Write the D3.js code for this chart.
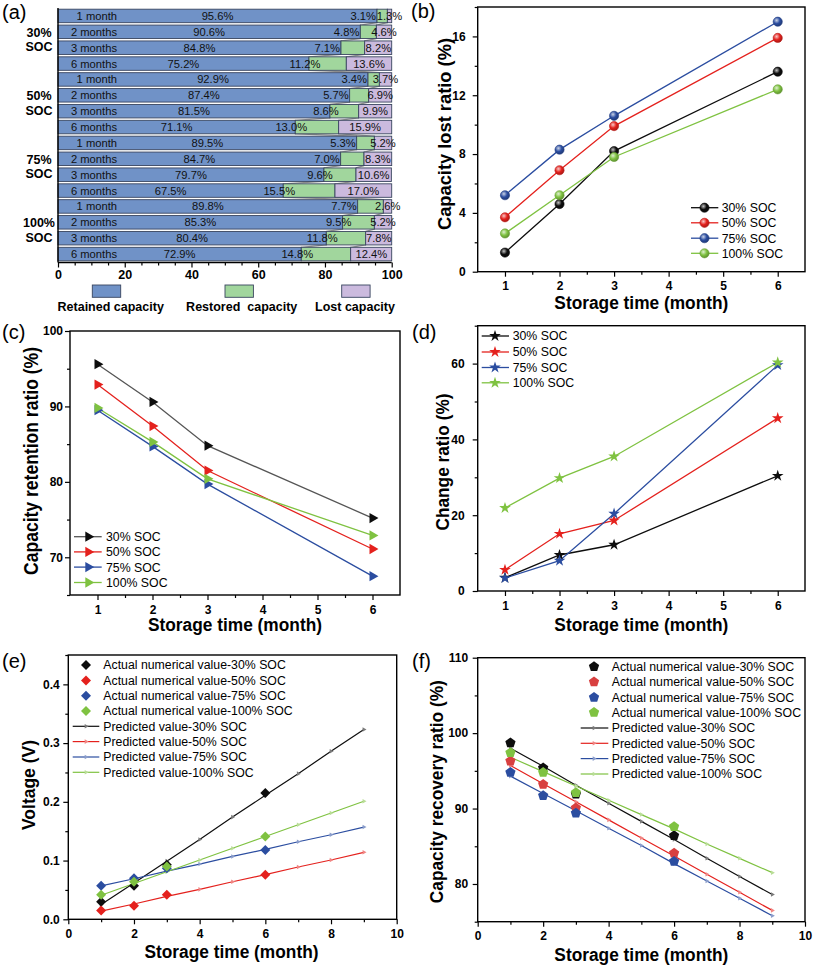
<!DOCTYPE html>
<html><head><meta charset="utf-8">
<script src="https://cdn.jsdelivr.net/npm/d3@7"></script>
<style>
body{margin:0;background:#fff}
svg{display:block}
text{font-family:"Liberation Sans",Arial,Helvetica,sans-serif}
</style>
</head><body>
<svg id="chart" width="813" height="967"></svg>
<script>
// ---------------- data ----------------
const socLabels = ["30% SOC", "50% SOC", "75% SOC", "100% SOC"];
const groupPct = ["30%", "50%", "75%", "100%"];
const months = [1, 2, 3, 6];
const monthLabels = ["1 month", "2 months", "3 months", "6 months"];
const retained = [[95.6, 90.6, 84.8, 75.2], [92.9, 87.4, 81.5, 71.1], [89.5, 84.7, 79.7, 67.5], [89.8, 85.3, 80.4, 72.9]];
const restored = [[3.1, 4.8, 7.1, 11.2], [3.4, 5.7, 8.6, 13.0], [5.3, 7.0, 9.6, 15.5], [7.7, 9.5, 11.8, 14.8]];
const lost = [[1.3, 4.6, 8.2, 13.6], [3.7, 6.9, 9.9, 15.9], [5.2, 8.3, 10.6, 17.0], [2.6, 5.2, 7.8, 12.4]];
const changeRatio = [[3.5, 9.5, 12.2, 30.4], [5.6, 15.1, 18.6, 45.6], [3.4, 8.0, 20.4, 59.6], [21.9, 29.8, 35.5, 60.3]];
const predMonths = [1, 2, 3, 4, 5, 6, 7, 8, 9];
const voltageActual = [[0.030, 0.057, 0.093, 0.215], [0.015, 0.023, 0.042, 0.076], [0.057, 0.070, 0.087, 0.118], [0.042, 0.064, 0.090, 0.141]];
const voltagePred = [
  [0.025, 0.062, 0.099, 0.136, 0.174, 0.211, 0.248, 0.286, 0.323],
  [0.014, 0.026, 0.039, 0.051, 0.064, 0.076, 0.089, 0.101, 0.114],
  [0.057, 0.069, 0.082, 0.094, 0.107, 0.119, 0.132, 0.144, 0.157],
  [0.041, 0.061, 0.081, 0.101, 0.121, 0.141, 0.161, 0.181, 0.201]];
const recoveryActual = [[98.7, 95.4, 91.9, 86.4], [96.3, 93.2, 90.1, 84.1], [94.8, 91.7, 89.4, 83.0], [97.4, 94.8, 92.1, 87.6]];
const recoveryPred = [
  [98.0, 95.6, 93.1, 90.7, 88.3, 85.9, 83.4, 81.0, 78.6],
  [95.7, 93.3, 90.9, 88.5, 86.1, 83.7, 81.3, 78.9, 76.5],
  [94.3, 92.0, 89.7, 87.4, 85.1, 82.7, 80.4, 78.1, 75.8],
  [96.8, 94.9, 93.0, 91.1, 89.2, 87.3, 85.3, 83.4, 81.5]];
const barLegend = ["Retained capacity", "Restored  capacity", "Lost capacity"];
const actualLegend = ["Actual numerical value-30% SOC", "Actual numerical value-50% SOC", "Actual numerical value-75% SOC", "Actual numerical value-100% SOC"];
const predLegend = ["Predicted value-30% SOC", "Predicted value-50% SOC", "Predicted value-75% SOC", "Predicted value-100% SOC"];
const ticksA = [0, 20, 40, 60, 80, 100];
const ticksMonth = [1, 2, 3, 4, 5, 6];
const ticksB = [0, 4, 8, 12, 16];
const ticksC = [70, 80, 90, 100];
const ticksD = [0, 20, 40, 60];
const ticksE = [0, 0.1, 0.2, 0.3, 0.4];
const ticksF = [80, 90, 100, 110];
const ticksX10 = [0, 2, 4, 6, 8, 10];

// ---------------- styles ----------------
const colors = ["#0d0d0d", "#e4211d", "#2b4da0", "#7fc241"];
const barColors = ["#7092c7", "#a1d69d", "#cbbade"];
const barStroke = "#39455f";

const svg = d3.select("#chart");
const defs = svg.append("defs");
colors.forEach((c, i) => {
  const g = defs.append("radialGradient").attr("id", "ball" + i).attr("cx", "38%").attr("cy", "35%").attr("r", "65%");
  g.append("stop").attr("offset", "0%").attr("stop-color", d3.interpolateRgb(c, "#fff")(0.75));
  g.append("stop").attr("offset", "55%").attr("stop-color", c);
  g.append("stop").attr("offset", "100%").attr("stop-color", d3.color(c).darker(0.8));
});

// ---------------- helpers ----------------
function styleAxis(g, fs) {
  g.select(".domain").remove();
  g.selectAll(".tick line").attr("stroke", "#000").attr("stroke-width", 1.2);
  g.selectAll(".tick text").attr("font-size", fs || 12).attr("font-weight", "bold").attr("fill", "#000")
    .attr("font-family", "'Liberation Sans',Arial,sans-serif");
}
function frame(x, y, o) {
  const g = svg.append("g");
  const [x0, x1] = x.range(), [y0, y1] = y.range();
  const bx = g.append("g").attr("transform", `translate(0,${y0})`)
    .call(d3.axisBottom(x).tickValues(o.xMajor).tickFormat(o.xFmt || d3.format("d")).tickSize(5).tickSizeOuter(0).tickPadding(5));
  styleAxis(bx);
  const bxm = g.append("g").attr("transform", `translate(0,${y0})`)
    .call(d3.axisBottom(x).tickValues(o.xMinor).tickFormat("").tickSize(3).tickSizeOuter(0));
  styleAxis(bxm);
  const ly = g.append("g").attr("transform", `translate(${x0},0)`)
    .call(d3.axisLeft(y).tickValues(o.yMajor).tickFormat(o.yFmt || d3.format("d")).tickSize(5).tickSizeOuter(0).tickPadding(o.yPad));
  styleAxis(ly);
  const lym = g.append("g").attr("transform", `translate(${x0},0)`)
    .call(d3.axisLeft(y).tickValues(o.yMinor).tickFormat("").tickSize(3).tickSizeOuter(0));
  styleAxis(lym);
  g.append("rect").attr("x", x0).attr("y", y1).attr("width", x1 - x0).attr("height", y0 - y1)
    .attr("fill", "none").attr("stroke", "#000").attr("stroke-width", 1.4);
  // titles
  g.append("text").attr("x", (x0 + x1) / 2 + (o.xtDx || 0)).attr("y", o.xtY).attr("text-anchor", "middle")
    .attr("font-size", 17.5).attr("font-weight", "bold").attr("textLength", 174).attr("lengthAdjust", "spacingAndGlyphs")
    .text("Storage time (month)");
  g.append("text").attr("transform", `translate(${o.ytX},${o.ytY}) rotate(-90)`).attr("text-anchor", "middle").attr("dy", "0.35em")
    .attr("font-size", o.ytFs).attr("font-weight", "bold").attr("textLength", o.ytLen).attr("lengthAdjust", "spacingAndGlyphs")
    .text(o.yTitle);
  return g;
}
function panelLabel(t, x, y) {
  svg.append("text").attr("x", x).attr("y", y).attr("dy", "0.35em").attr("font-size", 20).text(t);
}
function pentagon(r) {
  const p = d3.path();
  for (let k = 0; k < 5; k++) {
    const a = -Math.PI / 2 + k * 2 * Math.PI / 5;
    const px = r * Math.cos(a), py = r * Math.sin(a);
    k ? p.lineTo(px, py) : p.moveTo(px, py);
  }
  p.closePath();
  return p.toString();
}
const triRight = d3.symbol().type(d3.symbolTriangle).size(46)();
const starPath = d3.symbol().type(d3.symbolStar).size(42)();
const diamondPath = d3.symbol().type(d3.symbolSquare).size(50)();
const tinyTri = d3.symbol().type(d3.symbolTriangle).size(9)();

// ---------------- panel (a) ----------------
const xa = d3.scaleLinear().domain([0, 100]).range([58, 391.7]);
const rowsA = [];
socLabels.forEach((s, i) => months.forEach((m, j) => rowsA.push({ i, j })));
const ya = d3.scaleBand().domain(d3.range(rowsA.length)).range([8, 262]).paddingInner(0.15).paddingOuter(0.075);
const bw = ya.bandwidth();
const ga = svg.append("g");
// connecting lines
rowsA.forEach((r, k) => {
  if (k === rowsA.length - 1) return;
  const n = rowsA[k + 1];
  const c1 = [retained[r.i][r.j], retained[r.i][r.j] + restored[r.i][r.j]];
  const c2 = [retained[n.i][n.j], retained[n.i][n.j] + restored[n.i][n.j]];
  [0, 1].forEach(q => {
    ga.append("line").attr("x1", xa(c1[q])).attr("y1", ya(k) + bw).attr("x2", xa(c2[q])).attr("y2", ya(k + 1))
      .attr("stroke", "#8c8c8c").attr("stroke-width", 1.2);
  });
});
rowsA.forEach((r, k) => {
  const ret = retained[r.i][r.j], res = restored[r.i][r.j], lo = lost[r.i][r.j];
  const segs = [[0, ret], [ret, ret + res], [ret + res, Math.min(100, ret + res + lo)]];
  segs.forEach((s, q) => {
    ga.append("rect").attr("x", xa(s[0])).attr("y", ya(k)).attr("width", xa(s[1]) - xa(s[0])).attr("height", bw)
      .attr("fill", barColors[q]).attr("stroke", barStroke).attr("stroke-width", 0.9);
  });
  const cy = ya(k) + bw / 2;
  const t = (x, anchor, txt) => ga.append("text").attr("x", x).attr("y", cy).attr("dy", "0.36em")
    .attr("text-anchor", anchor).attr("font-size", 11.2).attr("fill", "#111").text(txt);
  t(117, "end", monthLabels[r.j]);
  t(xa(ret / 2), "middle", ret.toFixed(1) + "%");
  if (res < 8.5) t(xa(ret) - 1, "end", res.toFixed(1) + "%");
  else t(xa(ret) - 4, "middle", res.toFixed(1) + "%");
  t(xa(ret + res + lo / 2), "middle", lo.toFixed(1) + "%");
});
groupPct.forEach((p, i) => {
  const cy = (ya(4 * i + 1) + bw + ya(4 * i + 2)) / 2;
  ga.append("text").attr("x", 39).attr("y", cy - 7.6).attr("dy", "0.36em").attr("text-anchor", "middle")
    .attr("font-size", 12.5).attr("font-weight", "bold").text(p);
  ga.append("text").attr("x", 39).attr("y", cy + 7.2).attr("dy", "0.36em").attr("text-anchor", "middle")
    .attr("font-size", 12.5).attr("font-weight", "bold").text("SOC");
});
ga.append("line").attr("x1", 58).attr("x2", 58).attr("y1", 8).attr("y2", 262.5).attr("stroke", "#000").attr("stroke-width", 1.4);
ga.append("line").attr("x1", 58).attr("x2", 391.7).attr("y1", 262.5).attr("y2", 262.5).attr("stroke", "#000").attr("stroke-width", 1.6);
const axA = ga.append("g").attr("transform", "translate(0,262.5)")
  .call(d3.axisBottom(xa).tickValues(ticksA).tickSize(5).tickSizeOuter(0).tickPadding(2.5));
styleAxis(axA, 12.5);
const axAm = ga.append("g").attr("transform", "translate(0,262.5)")
  .call(d3.axisBottom(xa).tickValues(d3.range(5, 100, 5).filter(v => v % 20)).tickFormat("").tickSize(3).tickSizeOuter(0));
styleAxis(axAm);
const legAx = [[92.3, 110.7], [225, 241.7], [341.7, 355]];
barLegend.forEach((l, q) => {
  ga.append("rect").attr("x", legAx[q][0]).attr("y", 285).attr("width", 28.4).attr("height", 12.3)
    .attr("fill", barColors[q]).attr("stroke", barStroke).attr("stroke-width", 0.9);
  ga.append("text").attr("x", legAx[q][1]).attr("y", 310.5).attr("text-anchor", "middle").attr("font-size", 12.5)
    .attr("font-weight", "bold").style("white-space", "pre").text(l);
});
panelLabel("(a)", 2, 12);

// ---------------- panel (b) ----------------
const xb = d3.scaleLinear().domain([0.5, 6.5]).range([477.7, 805]);
const yb = d3.scaleLinear().domain([0, 18]).range([271.7, 7]);
frame(xb, yb, { xMajor: ticksMonth, xMinor: [1.5, 2.5, 3.5, 4.5, 5.5], yMajor: ticksB, yMinor: [2, 6, 10, 14, 18], yPad: 7,
  xtY: 309, ytX: 444, ytY: 134, ytFs: 19, ytLen: 192, yTitle: "Capacity lost ratio (%)" });
const lineB = d3.line().x((d, j) => xb(months[j])).y(d => yb(d));
lost.forEach((s, i) => {
  svg.append("path").attr("d", lineB(s)).attr("fill", "none").attr("stroke", colors[i]).attr("stroke-width", 1.3);
});
lost.forEach((s, i) => s.forEach((v, j) => {
  svg.append("circle").attr("cx", xb(months[j])).attr("cy", yb(v)).attr("r", 4.6).attr("fill", `url(#ball${i})`)
    .attr("stroke", d3.color(colors[i]).darker(0.6)).attr("stroke-width", 0.6);
}));
const legBy = [207.7, 222.8, 238.2, 253.3];
socLabels.forEach((l, i) => {
  svg.append("line").attr("x1", 691).attr("x2", 718.3).attr("y1", legBy[i]).attr("y2", legBy[i]).attr("stroke", colors[i]).attr("stroke-width", 1.3);
  svg.append("circle").attr("cx", 704.5).attr("cy", legBy[i]).attr("r", 4.6).attr("fill", `url(#ball${i})`)
    .attr("stroke", d3.color(colors[i]).darker(0.6)).attr("stroke-width", 0.6);
  svg.append("text").attr("x", 721.7).attr("y", legBy[i]).attr("dy", "0.36em").attr("font-size", 12.3).text(l);
});
panelLabel("(b)", 411, 11);

// ---------------- panel (c) ----------------
const xc = d3.scaleLinear().domain([0.5, 6.5]).range([70, 400]);
const yc = d3.scaleLinear().domain([65, 100]).range([595, 331]);
frame(xc, yc, { xMajor: ticksMonth, xMinor: [1.5, 2.5, 3.5, 4.5, 5.5], yMajor: ticksC, yMinor: [65, 75, 85, 95], yPad: 2,
  xtY: 631, ytX: 31, ytY: 461, ytFs: 20.5, ytLen: 228, yTitle: "Capacity retention ratio (%)" });
const lineC = d3.line().x((d, j) => xc(months[j])).y(d => yc(d));
const lineColC = ["#555555", colors[1], colors[2], colors[3]];
retained.forEach((s, i) => {
  svg.append("path").attr("d", lineC(s)).attr("fill", "none").attr("stroke", lineColC[i]).attr("stroke-width", 1.3);
});
retained.forEach((s, i) => s.forEach((v, j) => {
  svg.append("path").attr("d", triRight).attr("transform", `translate(${xc(months[j])},${yc(v)}) rotate(90)`).attr("fill", colors[i]);
}));
const legCy = [536.7, 551.9, 567.1, 582.5];
socLabels.forEach((l, i) => {
  svg.append("line").attr("x1", 74).attr("x2", 101.7).attr("y1", legCy[i]).attr("y2", legCy[i]).attr("stroke", lineColC[i]).attr("stroke-width", 1.3);
  svg.append("path").attr("d", triRight).attr("transform", `translate(88.3,${legCy[i]}) rotate(90)`).attr("fill", colors[i]);
  svg.append("text").attr("x", 106).attr("y", legCy[i]).attr("dy", "0.36em").attr("font-size", 12.3).text(l);
});
panelLabel("(c)", 2, 332);

// ---------------- panel (d) ----------------
const xd = d3.scaleLinear().domain([0.5, 6.5]).range([477.7, 805]);
const yd = d3.scaleLinear().domain([0, 70]).range([591, 325.7]);
frame(xd, yd, { xMajor: ticksMonth, xMinor: [1.5, 2.5, 3.5, 4.5, 5.5], yMajor: ticksD, yMinor: [10, 30, 50, 70], yPad: 8,
  xtY: 631, ytX: 443, ytY: 462, ytFs: 17.5, ytLen: 137, yTitle: "Change ratio (%)" });
const lineD = d3.line().x((d, j) => xd(months[j])).y(d => yd(d));
changeRatio.forEach((s, i) => {
  svg.append("path").attr("d", lineD(s)).attr("fill", "none").attr("stroke", colors[i]).attr("stroke-width", 1.3);
});
changeRatio.forEach((s, i) => s.forEach((v, j) => {
  svg.append("path").attr("d", starPath).attr("transform", `translate(${xd(months[j])},${yd(v)})`).attr("fill", colors[i]);
}));
const legDy = [336, 352, 367.5, 382.8];
socLabels.forEach((l, i) => {
  svg.append("line").attr("x1", 481.7).attr("x2", 509).attr("y1", legDy[i]).attr("y2", legDy[i]).attr("stroke", colors[i]).attr("stroke-width", 1.3);
  svg.append("path").attr("d", starPath).attr("transform", `translate(495,${legDy[i]})`).attr("fill", colors[i]);
  svg.append("text").attr("x", 512.7).attr("y", legDy[i]).attr("dy", "0.36em").attr("font-size", 12.3).text(l);
});
panelLabel("(d)", 412, 332);

// ---------------- panel (e) ----------------
const xe = d3.scaleLinear().domain([0, 10]).range([68.3, 396.7]);
const ye = d3.scaleLinear().domain([0, 0.45]).range([919.3, 655]);
frame(xe, ye, { xMajor: ticksX10, xMinor: [1, 3, 5, 7, 9], xFmt: d3.format("d"), yMajor: ticksE, yMinor: [0.05, 0.15, 0.25, 0.35, 0.45],
  yFmt: d3.format(".1f"), yPad: 3.5, xtY: 958, xtDx: -1, ytX: 29, ytY: 785, ytFs: 17.5, ytLen: 90, yTitle: "Voltage (V)" });
const lineE = d3.line().x((d, j) => xe(predMonths[j])).y(d => ye(d));
voltagePred.forEach((s, i) => {
  svg.append("path").attr("d", lineE(s)).attr("fill", "none").attr("stroke", colors[i]).attr("stroke-width", 1.2);
  s.forEach((v, j) => svg.append("path").attr("d", tinyTri).attr("transform", `translate(${xe(predMonths[j])},${ye(v)}) rotate(90)`)
    .attr("fill", d3.interpolateRgb(colors[i], "#fff")(0.45)));
});
voltageActual.forEach((s, i) => s.forEach((v, j) => {
  svg.append("path").attr("d", diamondPath).attr("transform", `translate(${xe(months[j])},${ye(v)}) rotate(45)`).attr("fill", colors[i]);
}));
const legEy = [665, 680.5, 695.8, 711, 726.3, 741.6, 757, 772.3];
actualLegend.forEach((l, i) => {
  svg.append("path").attr("d", diamondPath).attr("transform", `translate(86,${legEy[i]}) rotate(45)`).attr("fill", colors[i]);
  svg.append("text").attr("x", 103.3).attr("y", legEy[i]).attr("dy", "0.36em").attr("font-size", 12.3).text(l);
});
predLegend.forEach((l, i) => {
  const y = legEy[i + 4];
  svg.append("line").attr("x1", 72.7).attr("x2", 99.3).attr("y1", y).attr("y2", y).attr("stroke", colors[i]).attr("stroke-width", 1.2);
  svg.append("path").attr("d", tinyTri).attr("transform", `translate(86,${y}) rotate(90)`).attr("fill", d3.interpolateRgb(colors[i], "#fff")(0.45));
  svg.append("text").attr("x", 103.3).attr("y", y).attr("dy", "0.36em").attr("font-size", 12.3).text(l);
});
panelLabel("(e)", 2, 661);

// ---------------- panel (f) ----------------
const xf = d3.scaleLinear().domain([0, 10]).range([477.7, 805]);
const yf = d3.scaleLinear().domain([75, 110]).range([921.7, 657.7]);
frame(xf, yf, { xMajor: ticksX10, xMinor: [1, 3, 5, 7, 9], yMajor: ticksF, yMinor: [75, 85, 95, 105], yPad: 4.5,
  xtY: 961, ytX: 437, ytY: 791.7, ytFs: 17.5, ytLen: 223, yTitle: "Capacity recovery ratio (%)" });
const lineF = d3.line().x((d, j) => xf(predMonths[j])).y(d => yf(d));
recoveryPred.forEach((s, i) => {
  svg.append("path").attr("d", lineF(s)).attr("fill", "none").attr("stroke", colors[i]).attr("stroke-width", 1.2);
  s.forEach((v, j) => svg.append("path").attr("d", tinyTri).attr("transform", `translate(${xf(predMonths[j])},${yf(v)}) rotate(90)`)
    .attr("fill", d3.interpolateRgb(colors[i], "#fff")(0.45)));
});
const pent = pentagon(5.4);
const pentCol = ["#0d0d0d", "#d84040", "#2b4da0", "#7fc241"];
recoveryActual.forEach((s, i) => s.forEach((v, j) => {
  svg.append("path").attr("d", pent).attr("transform", `translate(${xf(months[j])},${yf(v)})`).attr("fill", pentCol[i]);
}));
const legFy = [666.7, 682, 697.3, 712.5, 728, 743.3, 758.6, 774];
actualLegend.forEach((l, i) => {
  svg.append("path").attr("d", pent).attr("transform", `translate(594,${legFy[i]})`).attr("fill", pentCol[i]);
  svg.append("text").attr("x", 611.7).attr("y", legFy[i]).attr("dy", "0.36em").attr("font-size", 12.3).text(l);
});
predLegend.forEach((l, i) => {
  const y = legFy[i + 4];
  svg.append("line").attr("x1", 580.7).attr("x2", 608.3).attr("y1", y).attr("y2", y).attr("stroke", colors[i]).attr("stroke-width", 1.2);
  svg.append("path").attr("d", tinyTri).attr("transform", `translate(594,${y}) rotate(90)`).attr("fill", d3.interpolateRgb(colors[i], "#fff")(0.45));
  svg.append("text").attr("x", 611.7).attr("y", y).attr("dy", "0.36em").attr("font-size", 12.3).text(l);
});
panelLabel("(f)", 412, 661);
</script>
</body></html>
